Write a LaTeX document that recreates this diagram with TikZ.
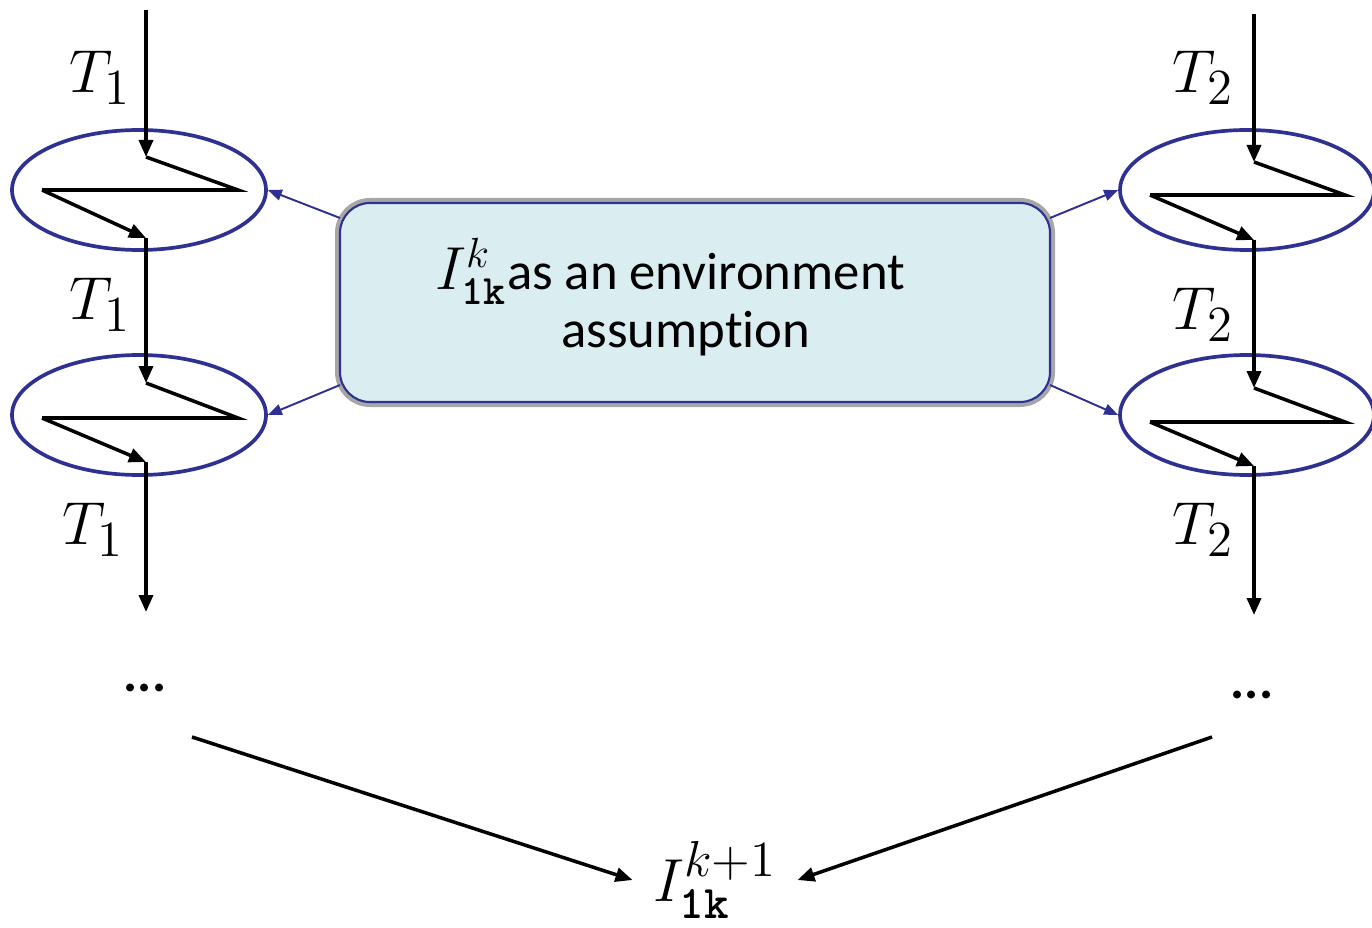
\documentclass[tikz,border=0pt]{standalone}
\usepackage{fontspec}
\setsansfont{Carlito}[Ligatures=NoCommon]
\usepackage{amsmath}
\usetikzlibrary{arrows.meta, shapes.geometric}

\definecolor{envblue}{RGB}{46,49,146}
\definecolor{envfill}{RGB}{218,237,240}
\newcommand{\lk}{\text{\ttfamily\bfseries 1k}}

\begin{document}
\begin{tikzpicture}[>={Triangle[length=1.7mm, width=1.4mm]},
  flow/.style={draw, line width=1pt},
  tlabel/.style={font=\fontsize{19}{23}\selectfont, inner sep=0pt},
  dots/.style={font=\sffamily\bfseries\fontsize{15}{18}\selectfont, inner sep=0pt},
  lock/.style={draw=envblue, ellipse, line width=1.05pt, minimum width=2.54cm, minimum height=1.20cm, inner sep=0pt},
  envbox/.style={draw=envblue, fill=envfill, line width=0.6pt, rounded corners=0.3cm,
    minimum width=7.10cm, minimum height=1.99cm, inner sep=0pt, preaction={draw=gray!70, line width=1.0mm}},
  hint/.style={draw=envblue, line width=0.55pt, -{Triangle[length=1.4mm, width=1.1mm]}}]

\useasboundingbox (0,0) rectangle (13.72,-9.27);

% ---- 1. left chain, T_1 ------------------------------------------------------------
\node[lock] (e1) at (1.39,-1.90) {};
\node[lock] (e2) at (1.39,-4.15) {};
\coordinate (l0) at (1.46,-0.10);
\coordinate (z1a) at (1.46,-1.57);
\coordinate (z1b) at (2.38,-1.90);
\coordinate (z1c) at (0.42,-1.90);
\coordinate (z1d) at (1.46,-2.38);
\coordinate (z2a) at (1.46,-3.83);
\coordinate (z2b) at (2.38,-4.18);
\coordinate (z2c) at (0.42,-4.18);
\coordinate (z2d) at (1.46,-4.62);
\coordinate (l3) at (1.46,-6.12);

\draw[flow, ->] (l0) -- (z1a);
\draw[flow] (z1a) -- (z1b) -- (z1c);
\draw[flow, ->] (z1c) -- (z1d);
\draw[flow, ->] (z1d) -- (z2a);
\draw[flow] (z2a) -- (z2b) -- (z2c);
\draw[flow, ->] (z2c) -- (z2d);
\draw[flow, ->] (z2d) -- (l3);

\node[tlabel] (t1a) at (1.00,-0.78) {$T_1$};
\node[tlabel] (t1b) at (1.00,-3.05) {$T_1$};
\node[tlabel] (t1c) at (0.93,-5.30) {$T_1$};

% ---- 2. right chain, T_2 -----------------------------------------------------------
\node[lock] (e3) at (12.47,-1.90) {};
\node[lock] (e4) at (12.47,-4.15) {};
\coordinate (r0) at (12.54,-0.14);
\coordinate (z3a) at (12.54,-1.62);
\coordinate (z3b) at (13.45,-1.95);
\coordinate (z3c) at (11.50,-1.95);
\coordinate (z3d) at (12.54,-2.40);
\coordinate (z4a) at (12.54,-3.88);
\coordinate (z4b) at (13.45,-4.22);
\coordinate (z4c) at (11.50,-4.22);
\coordinate (z4d) at (12.54,-4.66);
\coordinate (r3) at (12.54,-6.15);

\draw[flow, ->] (r0) -- (z3a);
\draw[flow] (z3a) -- (z3b) -- (z3c);
\draw[flow, ->] (z3c) -- (z3d);
\draw[flow, ->] (z3d) -- (z4a);
\draw[flow] (z4a) -- (z4b) -- (z4c);
\draw[flow, ->] (z4c) -- (z4d);
\draw[flow, ->] (z4d) -- (r3);

\node[tlabel] (t2a) at (12.03,-0.78) {$T_2$};
\node[tlabel] (t2b) at (12.03,-3.15) {$T_2$};
\node[tlabel] (t2c) at (12.03,-5.30) {$T_2$};

% ---- 3. the assumption box ---------------------------------------------------------
\node[envbox] (env) at (6.95,-3.025) {};
\node[align=center, font=\sffamily\fontsize{15}{16.5}\selectfont] (envtext) at (6.86,-2.97)
  {{\fontsize{17}{20}\selectfont$I^{k}_{\lk}$}as an environment\hspace*{0.32cm}\\ assumption};

\coordinate (envl1) at (3.40,-2.18);
\coordinate (envl2) at (3.40,-3.85);
\coordinate (envr1) at (10.50,-2.18);
\coordinate (envr2) at (10.50,-3.85);
\draw[hint] (envl1) -- (e1.east);
\draw[hint] (envl2) -- (e2.east);
\draw[hint] (envr1) -- (e3.west);
\draw[hint] (envr2) -- (e4.west);

% ---- 4. the next invariant ---------------------------------------------------------
\node[dots] (dl) at (1.45,-6.88) {...};
\node[dots] (dr) at (12.52,-6.95) {...};
\node[tlabel, inner sep=0.2cm] (inext) at (7.15,-8.80) {$I^{k+1}_{\lk}$};

\coordinate (bl) at (1.92,-7.37);
\coordinate (br) at (12.12,-7.37);
\draw[flow, ->] (bl) -- (inext.west);
\draw[flow, ->] (br) -- (inext.east);

\end{tikzpicture}
\end{document}
